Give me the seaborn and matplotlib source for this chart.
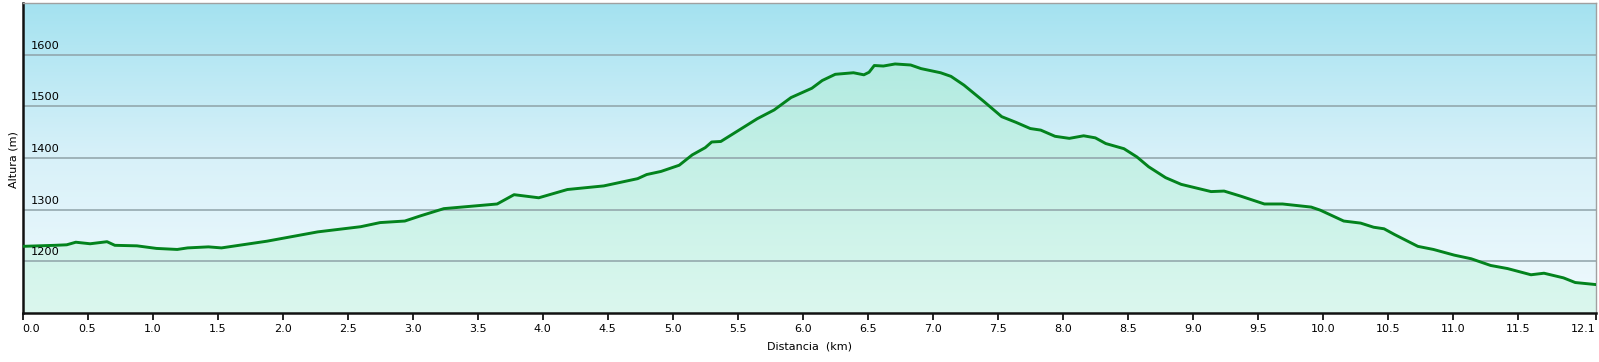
import numpy as np
import pandas as pd
import seaborn as sns
from matplotlib import pyplot as plt
from matplotlib.colors import LinearSegmentedColormap

# perfil: distancia (km) y altura (m)
km = [0.0, 0.25, 0.34, 0.41, 0.52, 0.65, 0.71, 0.88, 1.03, 1.19, 1.27, 1.43, 1.53, 1.88, 2.27, 2.60,
      2.75, 2.94, 3.06, 3.24, 3.65, 3.78, 3.97, 4.19, 4.47, 4.73, 4.80, 4.91, 5.05, 5.15, 5.25,
      5.30, 5.37, 5.65, 5.78, 5.91, 6.07, 6.15, 6.25, 6.39, 6.47, 6.51, 6.55, 6.62, 6.71, 6.83,
      6.91, 7.06, 7.14, 7.24, 7.39, 7.53, 7.64, 7.75, 7.83, 7.94, 8.05, 8.16, 8.25, 8.33, 8.47,
      8.57, 8.66, 8.79, 8.91, 9.14, 9.24, 9.37, 9.55, 9.69, 9.91, 9.98, 10.16, 10.29, 10.39,
      10.47, 10.55, 10.73, 10.85, 11.01, 11.14, 11.29, 11.42, 11.60, 11.70, 11.85, 11.94, 12.10]
altura = [1229, 1231, 1232, 1237, 1234, 1238, 1231, 1230, 1225, 1223, 1226, 1228, 1226, 1239, 1257, 1267,
          1275, 1278, 1288, 1302, 1311, 1329, 1323, 1339, 1346, 1360, 1368, 1374, 1386, 1406, 1420,
          1431, 1432, 1476, 1493, 1517, 1535, 1550, 1562, 1565, 1561, 1566, 1579, 1578, 1582, 1580,
          1573, 1565, 1558, 1541, 1510, 1480, 1469, 1457, 1454, 1442, 1438, 1443, 1439, 1428, 1418,
          1402, 1383, 1362, 1349, 1335, 1336, 1326, 1311, 1311, 1305, 1299, 1278, 1274, 1266,
          1263, 1252, 1229, 1223, 1212, 1205, 1192, 1186, 1174, 1177, 1168, 1159, 1155]

x_ticks = [0.0, 0.5, 1.0, 1.5, 2.0, 2.5, 3.0, 3.5, 4.0, 4.5, 5.0, 5.5, 6.0, 6.5, 7.0, 7.5,
           8.0, 8.5, 9.0, 9.5, 10.0, 10.5, 11.0, 11.5, 12.1]
y_ticks = [1200, 1300, 1400, 1500, 1600]
y_min, y_max = 1100, 1700

df = pd.DataFrame({'km': km, 'altura': altura})

fig = plt.figure(figsize=(15.99, 3.62), dpi=100)
ax = fig.add_axes([22.5/1599, 1-313/362, (1596-22.5)/1599, (313-3)/362])

x0, x1 = 0, df['km'].max()
ext = [x0, x1, y_min, y_max]
grad = np.linspace(1, 0, 256).reshape(-1, 1)

# fondo degradado (cielo)
sky = LinearSegmentedColormap.from_list('sky', ['#f0fafd', '#d8f1f9', '#a4e2f0'])
ax.imshow(grad, extent=ext, aspect='auto', cmap=sky, origin='upper', zorder=0)

# relleno degradado bajo el perfil
green = LinearSegmentedColormap.from_list('green', ['#dbf7ee', '#c4f0e6', '#a6e7de'])
im = ax.imshow(grad, extent=ext, aspect='auto', cmap=green, origin='upper', zorder=1)
verts = np.column_stack([np.r_[km[0], km, km[-1]], np.r_[y_min, altura, y_min]])
clip = plt.Polygon(verts, transform=ax.transData, facecolor='none', edgecolor='none')
ax.add_patch(clip)
im.set_clip_path(clip)

for v in y_ticks:
    ax.axhline(v, color='#8fa2a8', lw=1.1, zorder=2)
    ax.annotate(str(v), xy=(0, v), xytext=(8, 4), textcoords='offset pixels',
                fontsize=8.2, ha='left', va='bottom', color='black', zorder=4)

sns.lineplot(data=df, x='km', y='altura', color='#03831d', linewidth=2.1, ax=ax, zorder=3)

ax.set_xlim(x0, x1)
ax.set_ylim(y_min, y_max)
ax.set_yticks([])
ax.set_xticks(x_ticks)
ax.set_xticklabels([f'{t:.1f}' for t in x_ticks], fontsize=8)
labs = ax.get_xticklabels()
labs[0].set_ha('left')
labs[-1].set_ha('right')
ax.tick_params(axis='x', length=5, width=1.2, color='black', pad=3)
ax.set_xlabel('Distancia  (km)', fontsize=8, labelpad=5)
ax.set_ylabel('')
fig.text(13/1599, 1-160/362, 'Altura (m)', rotation=90, fontsize=8, ha='center', va='center')

for s in ['left', 'bottom']:
    ax.spines[s].set_color('#111111')
    ax.spines[s].set_linewidth(1.8)
for s in ['top', 'right']:
    ax.spines[s].set_color('#a0a0a0')
    ax.spines[s].set_linewidth(1.0)

fig.savefig('out.png', dpi=100)
